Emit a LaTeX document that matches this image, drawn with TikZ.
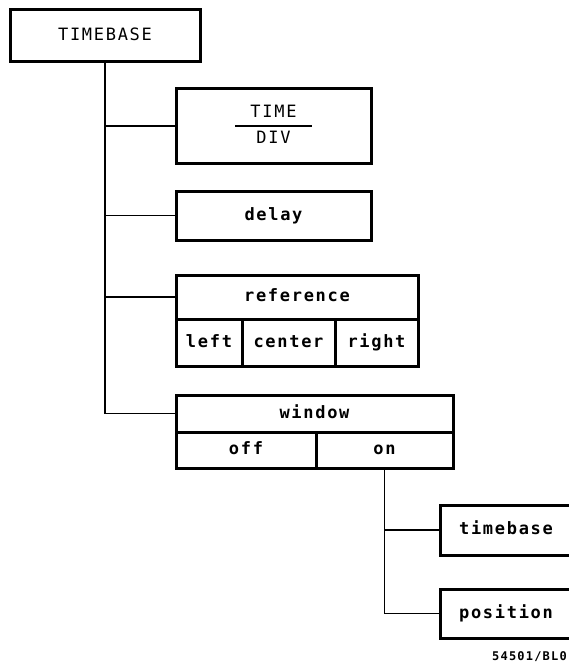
\documentclass[tikz,border=0pt]{standalone}
\usepackage{fontspec}
\newfontfamily\plotfont[LetterSpace=10]{DejaVu Sans Mono}
\newcommand\lcfont{\plotfont\fontsize{17}{20}\selectfont\bfseries}
\newcommand\ucfont{\plotfont\fontsize{17}{20}\selectfont}
\setlength\arrayrulewidth{2pt}
\renewcommand\arraystretch{1.2}

\begin{document}
\begin{tikzpicture}[
        x=1pt,y=-1pt,
        bx/.style={draw,line width=3pt,inner sep=0,text height=13pt,text depth=4pt,font=\lcfont},
        ucase/.style={font=\ucfont},
        ln/.style={line width=1.6pt}
      ]
      \useasboundingbox (0,0) rectangle (568,666);
      \node[bx,ucase,minimum width=190,minimum height=52] (tbase) at (105,36) {TIMEBASE};
      \node[bx,ucase,text height={},text depth={},minimum width=195,minimum height=74] (tdiv) at (273.5,126)
        {\begin{tabular}{@{\hspace{15pt}}c@{\hspace{15pt}}}TIME\\\hline DIV\end{tabular}};
      \node[bx,minimum width=195,minimum height=49] (delay) at (273.5,215.5) {delay};
      \node[bx,minimum width=242,minimum height=44] (ref) at (297,297) {reference};
      \foreach \n/\t/\x/\w in {left/left/209/66,center/center/288.5/93,right/right/376.5/83}
        {\node[bx,minimum width=\w,minimum height=47] (\n) at (\x,342.5) {\t};}
      \node[bx,minimum width=277,minimum height=37] (win) at (314.5,413.5) {window};
      \foreach \n/\t/\x/\w in {off/off/246/140,on/on/384.5/137}
        {\node[bx,minimum width=\w,minimum height=36] (\n) at (\x,450) {\t};}
      \node[bx,minimum width=132,minimum height=50] (wtbase) at (506,530) {timebase};
      \node[bx,minimum width=132,minimum height=49] (wpos) at (506,613.5) {position};
      \node[inner sep=0,anchor=east,font=\plotfont\fontsize{12}{12}\selectfont\bfseries] (code) at (567,657) {54501/BL0};
      \foreach \n in {tdiv,delay,ref,win}{\draw[ln] (tbase.south) |- (\n.west);}
      \foreach \n in {wtbase,wpos}{\draw[ln] (on.south) |- (\n.west);}
    \end{tikzpicture}
\end{document}
